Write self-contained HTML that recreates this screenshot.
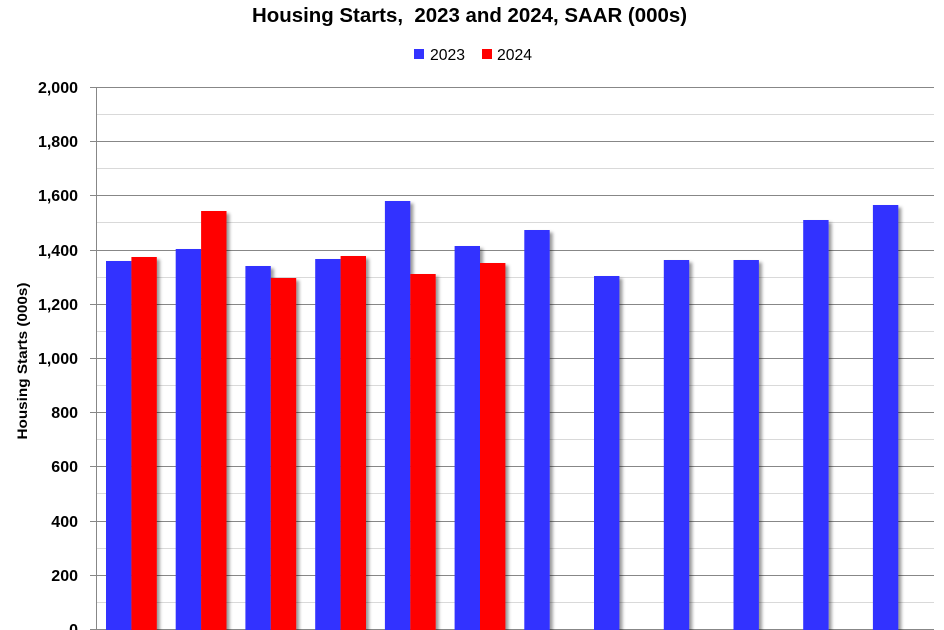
<!DOCTYPE html>
<html>
<head>
<meta charset="utf-8">
<style>
html,body{margin:0;padding:0;background:#fff;}
svg{display:block;}
</style>
</head>
<body>
<svg width="944" height="630" viewBox="0 0 944 630" xmlns="http://www.w3.org/2000/svg" font-family="'Liberation Sans', sans-serif">
<defs>
<filter id="sh" x="-20%" y="-5%" width="160%" height="120%">
<feDropShadow dx="3" dy="2.5" stdDeviation="1.6" flood-color="#000" flood-opacity="0.4"/>
</filter>
</defs>
<rect width="944" height="630" fill="#fff"/>
<!-- minor gridlines -->
<g stroke="#d9d9d9" stroke-width="1">
<line x1="97" x2="934" y1="114.5" y2="114.5"/>
<line x1="97" x2="934" y1="168.5" y2="168.5"/>
<line x1="97" x2="934" y1="222.5" y2="222.5"/>
<line x1="97" x2="934" y1="277.5" y2="277.5"/>
<line x1="97" x2="934" y1="331.5" y2="331.5"/>
<line x1="97" x2="934" y1="385.5" y2="385.5"/>
<line x1="97" x2="934" y1="439.5" y2="439.5"/>
<line x1="97" x2="934" y1="493.5" y2="493.5"/>
<line x1="97" x2="934" y1="548.5" y2="548.5"/>
<line x1="97" x2="934" y1="602.5" y2="602.5"/>
</g>
<!-- major gridlines -->
<g stroke="#878787" stroke-width="1">
<line x1="90" x2="934" y1="87.5" y2="87.5"/>
<line x1="90" x2="934" y1="141.5" y2="141.5"/>
<line x1="90" x2="934" y1="195.5" y2="195.5"/>
<line x1="90" x2="934" y1="250.5" y2="250.5"/>
<line x1="90" x2="934" y1="304.5" y2="304.5"/>
<line x1="90" x2="934" y1="358.5" y2="358.5"/>
<line x1="90" x2="934" y1="412.5" y2="412.5"/>
<line x1="90" x2="934" y1="466.5" y2="466.5"/>
<line x1="90" x2="934" y1="521.5" y2="521.5"/>
<line x1="90" x2="934" y1="575.5" y2="575.5"/>
<line x1="90" x2="934" y1="629.5" y2="629.5"/>
<line x1="96.5" x2="96.5" y1="87" y2="630"/>
</g>
<!-- bars -->
<g filter="url(#sh)">
<rect x="106" y="261" width="25.4" height="370" fill="#3333ff"/>
<rect x="131.4" y="257" width="25.4" height="374" fill="#ff0000"/>
</g>
<g filter="url(#sh)">
<rect x="175.7" y="249" width="25.4" height="382" fill="#3333ff"/>
<rect x="201.1" y="211" width="25.4" height="420" fill="#ff0000"/>
</g>
<g filter="url(#sh)">
<rect x="245.4" y="266" width="25.4" height="365" fill="#3333ff"/>
<rect x="270.8" y="278" width="25.4" height="353" fill="#ff0000"/>
</g>
<g filter="url(#sh)">
<rect x="315.2" y="259" width="25.4" height="372" fill="#3333ff"/>
<rect x="340.6" y="256" width="25.4" height="375" fill="#ff0000"/>
</g>
<g filter="url(#sh)">
<rect x="384.9" y="201" width="25.4" height="430" fill="#3333ff"/>
<rect x="410.3" y="274" width="25.4" height="357" fill="#ff0000"/>
</g>
<g filter="url(#sh)">
<rect x="454.6" y="246" width="25.4" height="385" fill="#3333ff"/>
<rect x="480" y="263" width="25.4" height="368" fill="#ff0000"/>
</g>
<rect filter="url(#sh)" x="524.3" y="230" width="25.4" height="401" fill="#3333ff"/>
<rect filter="url(#sh)" x="594" y="276" width="25.4" height="355" fill="#3333ff"/>
<rect filter="url(#sh)" x="663.8" y="260" width="25.4" height="371" fill="#3333ff"/>
<rect filter="url(#sh)" x="733.5" y="260" width="25.4" height="371" fill="#3333ff"/>
<rect filter="url(#sh)" x="803.2" y="220" width="25.4" height="411" fill="#3333ff"/>
<rect filter="url(#sh)" x="872.9" y="205" width="25.4" height="426" fill="#3333ff"/>
<!-- y tick labels -->
<g font-size="16" font-weight="bold" fill="#000" text-anchor="end">
<text x="78" y="93">2,000</text>
<text x="78" y="147">1,800</text>
<text x="78" y="201">1,600</text>
<text x="78" y="256">1,400</text>
<text x="78" y="310">1,200</text>
<text x="78" y="364">1,000</text>
<text x="78" y="418">800</text>
<text x="78" y="472">600</text>
<text x="78" y="527">400</text>
<text x="78" y="581">200</text>
<text x="78" y="635">0</text>
</g>
<!-- axis title -->
<text transform="translate(27,361) rotate(-90)" text-anchor="middle" font-size="14" font-weight="bold" fill="#000" textLength="157" lengthAdjust="spacingAndGlyphs">Housing Starts (000s)</text>
<!-- chart title -->
<text x="469.5" y="22" text-anchor="middle" font-size="20" font-weight="bold" fill="#000" textLength="435" lengthAdjust="spacingAndGlyphs">Housing Starts,&#160; 2023 and 2024, SAAR (000s)</text>
<!-- legend -->
<rect x="414" y="49" width="10" height="10" fill="#3333ff"/>
<text x="430" y="60" font-size="16" fill="#000" textLength="35" lengthAdjust="spacingAndGlyphs">2023</text>
<rect x="482" y="49" width="10" height="10" fill="#ff0000"/>
<text x="497" y="60" font-size="16" fill="#000" textLength="35" lengthAdjust="spacingAndGlyphs">2024</text>
</svg>
</body>
</html>
